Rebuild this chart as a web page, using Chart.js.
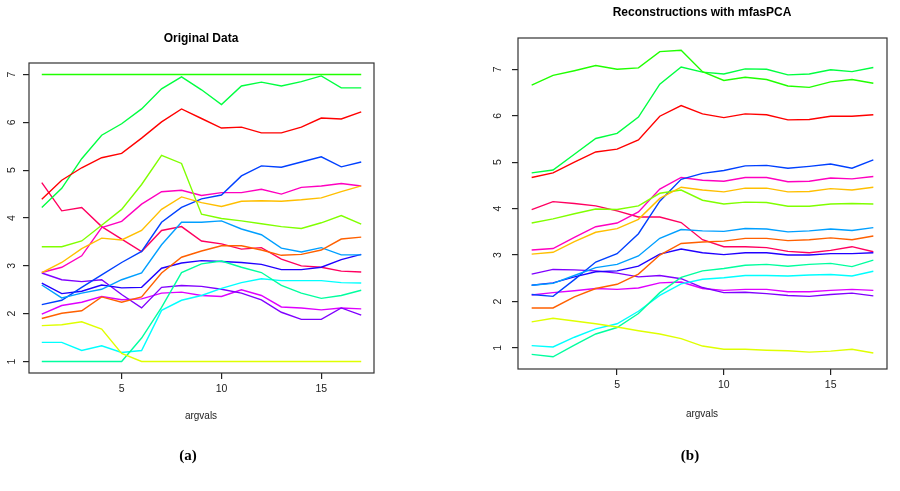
<!DOCTYPE html>
<html><head><meta charset="utf-8">
<script src="https://cdn.jsdelivr.net/npm/chart.js@4.4.1/dist/chart.umd.min.js"></script>
<style>
html,body{margin:0;padding:0;background:#fff;}
#wrap{position:relative;width:900px;height:491px;overflow:hidden;font-family:"Liberation Sans",Arial,sans-serif;background:#fff;}
canvas{position:absolute;top:0;}
.t{position:absolute;white-space:nowrap;transform:translate(-50%,-50%);color:#000;}
</style></head><body>
<div id="wrap">
<canvas id="c1" width="450" height="491" style="left:0px"></canvas>
<canvas id="c2" width="450" height="491" style="left:450px"></canvas>
<div class="t" style="left:201px;top:38px;font-weight:bold;font-size:12px">Original Data</div>
<div class="t" style="left:702px;top:12px;font-weight:bold;font-size:12px">Reconstructions with mfasPCA</div>
<div class="t" style="left:201px;top:415px;font-size:10px;color:#222">argvals</div>
<div class="t" style="left:702px;top:413px;font-size:10px;color:#222">argvals</div>
<div class="t" style="left:188px;top:455px;font-weight:bold;font-size:15px;font-family:'Liberation Serif',serif">(a)</div>
<div class="t" style="left:690px;top:455px;font-weight:bold;font-size:15px;font-family:'Liberation Serif',serif">(b)</div>
</div>
<script>
// ---------- data ----------
const argvals = [1,2,3,4,5,6,7,8,9,10,11,12,13,14,15,16,17];
const xTicks = [5, 10, 15];
const yTicks = [1, 2, 3, 4, 5, 6, 7];

// R rainbow(16) palette
const seriesColors = ['#FF0000','#FF6000','#FFBF00','#DFFF00','#80FF00','#20FF00','#00FF40','#00FF9F',
                      '#00FFFF','#009FFF','#0040FF','#2000FF','#8000FF','#DF00FF','#FF00BF','#FF0060'];

// Original data (panel a), same order as seriesColors
const origRed       = [4.39,4.79,5.05,5.26,5.35,5.67,6.01,6.28,6.08,5.88,5.90,5.78,5.78,5.90,6.09,6.07,6.22];
const origOrangeRed = [1.90,2.01,2.06,2.35,2.24,2.35,2.85,3.18,3.31,3.42,3.42,3.33,3.22,3.24,3.33,3.56,3.60];
const origOrange    = [2.86,3.07,3.36,3.58,3.54,3.74,4.18,4.44,4.32,4.24,4.35,4.36,4.35,4.38,4.42,4.55,4.67];
const origYellow    = [1.75,1.77,1.83,1.68,1.17,1.00,1.00,1.00,1.00,1.00,1.00,1.00,1.00,1.00,1.00,1.00,1.00];
const origLime      = [3.40,3.40,3.52,3.85,4.18,4.70,5.31,5.14,4.08,3.99,3.94,3.88,3.82,3.78,3.90,4.05,3.87];
const origGreenA    = [7.00,7.00,7.00,7.00,7.00,7.00,7.00,7.00,7.00,7.00,7.00,7.00,7.00,7.00,7.00,7.00,7.00];
const origGreenB    = [4.22,4.62,5.24,5.73,5.97,6.28,6.70,6.95,6.68,6.37,6.76,6.84,6.76,6.85,6.97,6.72,6.72];
const origSpring    = [1.00,1.00,1.00,1.00,1.00,1.49,2.13,2.86,3.04,3.10,2.97,2.86,2.59,2.43,2.32,2.38,2.49];
const origCyan      = [1.40,1.40,1.23,1.33,1.19,1.23,2.07,2.28,2.38,2.53,2.65,2.73,2.69,2.69,2.69,2.65,2.64];
const origSky       = [2.60,2.33,2.43,2.51,2.71,2.85,3.44,3.91,3.91,3.94,3.77,3.65,3.37,3.29,3.38,3.23,3.23];
const origRoyal     = [2.19,2.28,2.55,2.81,3.07,3.30,3.91,4.22,4.40,4.48,4.88,5.09,5.06,5.17,5.28,5.07,5.17];
const origDarkBlue  = [2.64,2.42,2.47,2.60,2.54,2.55,2.95,3.06,3.11,3.09,3.07,3.03,2.92,2.92,2.97,3.13,3.24];
const origViolet    = [2.85,2.71,2.67,2.71,2.40,2.12,2.55,2.59,2.57,2.51,2.43,2.29,2.03,1.88,1.88,2.12,1.97];
const origMagenta   = [1.99,2.17,2.24,2.36,2.29,2.31,2.43,2.45,2.38,2.36,2.50,2.38,2.14,2.12,2.08,2.12,2.10];
const origPink      = [2.86,2.97,3.21,3.80,3.93,4.29,4.55,4.58,4.47,4.53,4.53,4.60,4.50,4.64,4.67,4.72,4.67];
const origCrimson   = [4.74,4.15,4.22,3.82,3.56,3.30,3.74,3.82,3.52,3.46,3.35,3.38,3.14,3.00,2.97,2.89,2.87];

// Reconstructions (panel b)
const recRed       = [4.67,4.77,5.00,5.22,5.28,5.48,5.99,6.22,6.04,5.96,6.04,6.02,5.91,5.92,5.99,5.99,6.02];
const recOrangeRed = [1.86,1.86,2.10,2.28,2.37,2.59,3.00,3.25,3.28,3.30,3.36,3.36,3.31,3.33,3.37,3.33,3.41];
const recOrange    = [3.02,3.06,3.29,3.49,3.57,3.77,4.22,4.46,4.40,4.36,4.44,4.44,4.36,4.37,4.43,4.40,4.46];
const recYellow    = [1.56,1.64,1.58,1.52,1.45,1.37,1.30,1.20,1.04,0.97,0.97,0.95,0.94,0.91,0.93,0.97,0.89];
const recLime      = [3.69,3.78,3.89,3.99,3.98,4.06,4.33,4.40,4.18,4.10,4.14,4.13,4.05,4.05,4.10,4.11,4.10];
const recGreenA    = [6.66,6.87,6.97,7.08,7.00,7.03,7.38,7.41,6.95,6.76,6.83,6.78,6.64,6.61,6.73,6.78,6.70];
const recGreenB    = [4.77,4.83,5.17,5.51,5.62,5.97,6.68,7.05,6.94,6.90,7.01,7.00,6.88,6.90,6.99,6.95,7.04];
const recSpring    = [0.86,0.81,1.06,1.30,1.44,1.74,2.19,2.52,2.66,2.71,2.78,2.80,2.76,2.80,2.82,2.75,2.89];
const recCyan      = [1.05,1.02,1.23,1.41,1.52,1.79,2.13,2.38,2.48,2.51,2.56,2.56,2.55,2.57,2.58,2.55,2.65];
const recSky       = [2.35,2.39,2.56,2.73,2.80,2.98,3.36,3.55,3.52,3.51,3.57,3.56,3.50,3.52,3.56,3.53,3.59];
const recRoyal     = [2.15,2.11,2.47,2.85,3.03,3.46,4.16,4.63,4.76,4.82,4.92,4.93,4.87,4.91,4.96,4.87,5.05];
const recDarkBlue  = [2.35,2.40,2.53,2.64,2.66,2.76,3.02,3.13,3.05,3.01,3.05,3.05,3.00,3.00,3.03,3.03,3.05];
const recViolet    = [2.59,2.69,2.68,2.66,2.61,2.53,2.56,2.49,2.30,2.19,2.20,2.17,2.13,2.11,2.15,2.18,2.12];
const recMagenta   = [2.14,2.19,2.23,2.28,2.26,2.29,2.40,2.42,2.28,2.24,2.26,2.26,2.21,2.21,2.24,2.26,2.24];
const recPink      = [3.11,3.14,3.38,3.61,3.69,3.93,4.42,4.67,4.61,4.59,4.67,4.67,4.58,4.59,4.66,4.64,4.69];
const recCrimson   = [3.98,4.15,4.11,4.06,3.95,3.82,3.82,3.70,3.33,3.18,3.18,3.16,3.08,3.05,3.10,3.18,3.07];

const origSeries = [origRed,origOrangeRed,origOrange,origYellow,origLime,origGreenA,origGreenB,origSpring,
                    origCyan,origSky,origRoyal,origDarkBlue,origViolet,origMagenta,origPink,origCrimson];
const recSeries  = [recRed,recOrangeRed,recOrange,recYellow,recLime,recGreenA,recGreenB,recSpring,
                    recCyan,recSky,recRoyal,recDarkBlue,recViolet,recMagenta,recPink,recCrimson];

// ---------- chart building ----------
function makeDatasets(series){
  return series.map((vals, i) => ({
    data: argvals.map((x, j) => ({x: x, y: vals[j]})),
    borderColor: seriesColors[i],
    borderWidth: 1.4,
    pointRadius: 0,
    tension: 0,
    fill: false
  }));
}

function boxPlugin(labelOffset){
  return {
    id: 'rbox',
    afterDraw(chart){
      const ctx = chart.ctx, a = chart.chartArea, y = chart.scales.y;
      ctx.save();
      ctx.strokeStyle = '#333';
      ctx.lineWidth = 1.2;
      ctx.strokeRect(a.left, a.top, a.right - a.left, a.bottom - a.top);
      ctx.fillStyle = '#222';
      ctx.font = '10.5px "Liberation Sans", Arial, sans-serif';
      ctx.textAlign = 'center';
      ctx.textBaseline = 'middle';
      yTicks.forEach(v => {
        const py = y.getPixelForValue(v);
        ctx.save();
        ctx.translate(a.left - labelOffset, py);
        ctx.rotate(-Math.PI / 2);
        ctx.fillText(String(v), 0, 0);
        ctx.restore();
      });
      ctx.restore();
    }
  };
}

function makeChart(id, series, cfg){
  return new Chart(document.getElementById(id), {
    type: 'line',
    data: { datasets: makeDatasets(series) },
    options: {
      responsive: false,
      animation: false,
      devicePixelRatio: 1,
      layout: { padding: cfg.padding },
      plugins: { legend: {display: false}, tooltip: {enabled: false}, title: {display: false} },
      scales: {
        x: {
          type: 'linear', min: cfg.xmin, max: cfg.xmax,
          afterBuildTicks: s => { s.ticks = xTicks.map(v => ({value: v})); },
          afterFit: s => { s.height = 40; },
          grid: { display: true, drawOnChartArea: false, drawTicks: true, tickLength: 6, color: '#222', lineWidth: 1.2 },
          border: { display: false },
          ticks: { color: '#222', font: {family: '"Liberation Sans", Arial, sans-serif', size: 10.5}, padding: cfg.xpad, maxRotation: 0, autoSkip: false }
        },
        y: {
          type: 'linear', min: cfg.ymin, max: cfg.ymax,
          afterBuildTicks: s => { s.ticks = yTicks.map(v => ({value: v})); },
          afterFit: s => { s.width = 20; },
          grid: { display: true, drawOnChartArea: false, drawTicks: true, tickLength: 6, color: '#222', lineWidth: 1.2 },
          border: { display: false },
          ticks: { display: true, color: 'rgba(0,0,0,0)', font: {size: 10} }
        }
      }
    },
    plugins: [boxPlugin(cfg.ylabOff)]
  });
}

makeChart('c1', origSeries, {
  padding: {left: 9, right: 76, top: 63, bottom: 78},
  xmin: 0.36, xmax: 17.64, ymin: 0.76, ymax: 7.24, xpad: 4, ylabOff: 17
});
makeChart('c2', recSeries, {
  padding: {left: 48, right: 13, top: 38, bottom: 82},
  xmin: 0.36, xmax: 17.64, ymin: 0.546, ymax: 7.674, xpad: 4, ylabOff: 20
});
</script>
</body></html>
